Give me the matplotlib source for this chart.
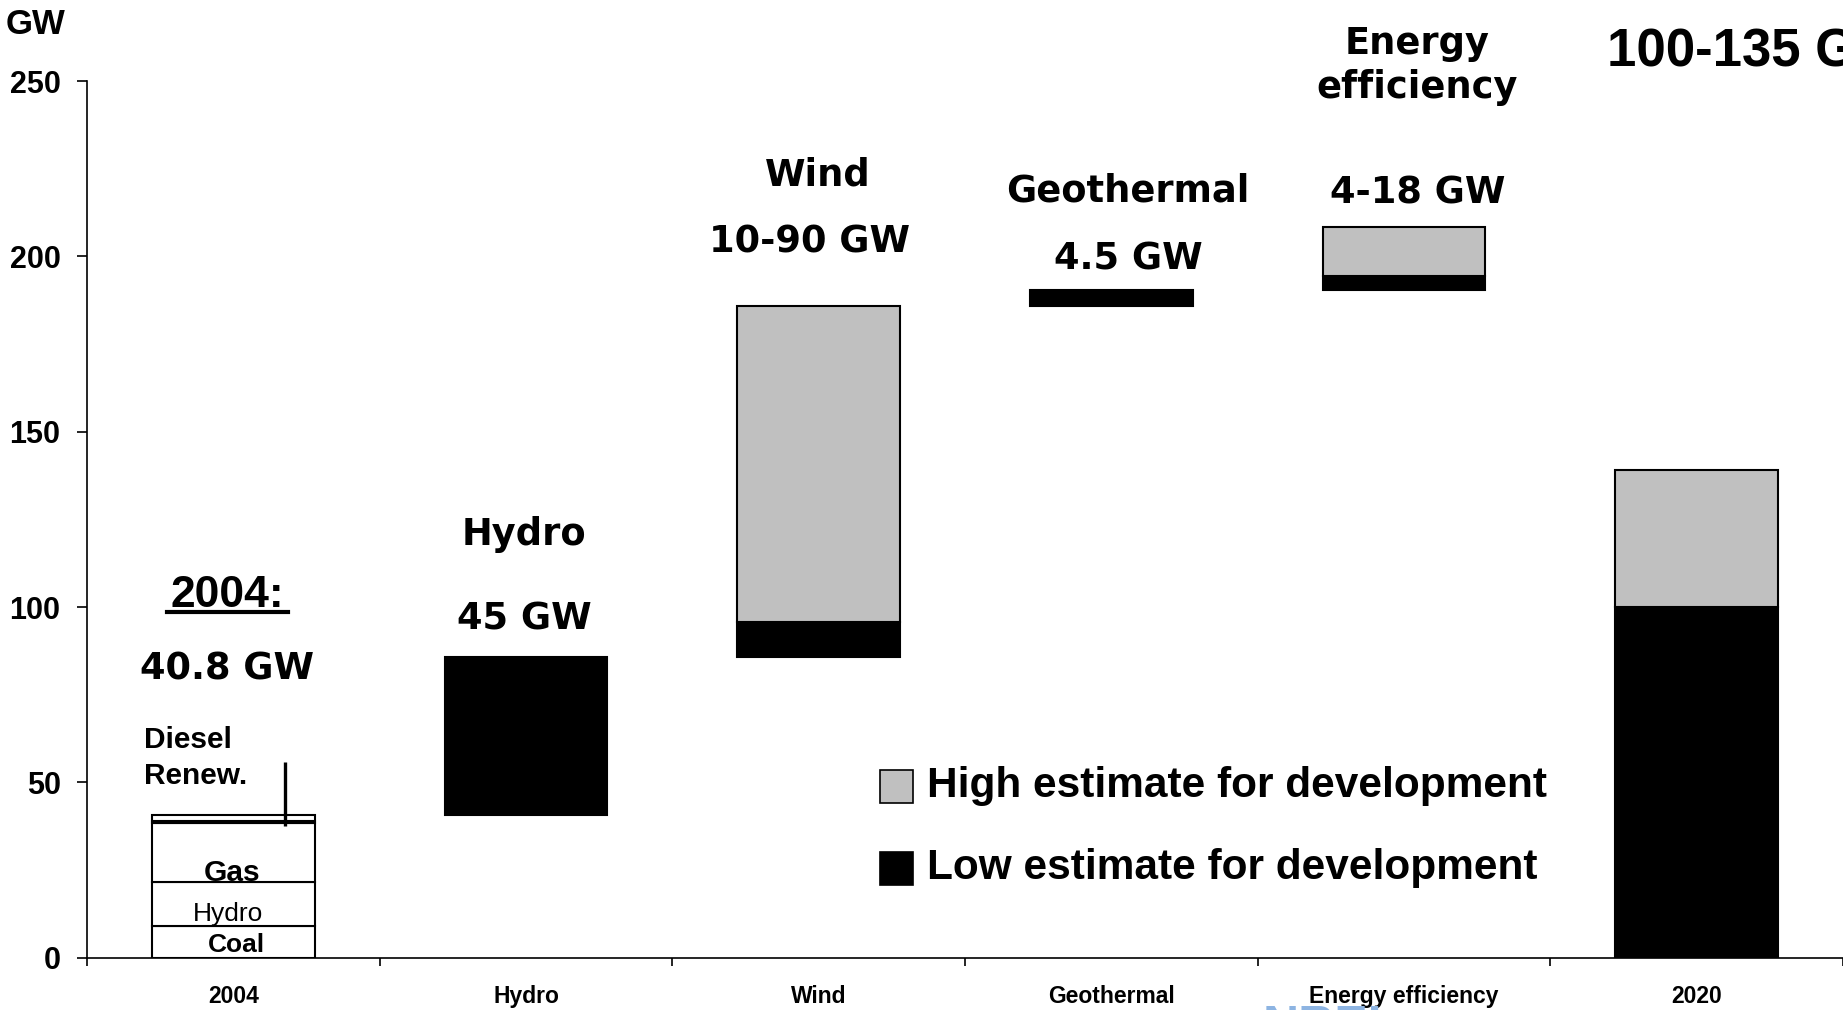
import numpy as np
import matplotlib
matplotlib.use("Agg")
import matplotlib.pyplot as plt
from matplotlib.patches import Rectangle

# ---- data -------------------------------------------------------------
categories = ["2004", "Hydro", "Wind", "Geothermal", "Energy efficiency", "2020"]

# installed capacity in 2004 (GW), stacked bottom to top
mix_2004_labels = ["Coal", "Hydro", "Gas", "Diesel", "Renew."]
mix_2004_values = [9.1, 12.6, 16.6, 0.8, 1.7]

# additions per source (GW): low estimate and the extra stacked for the high estimate
step_low = [45, 10, 4.5, 4]
step_high_extra = [0, 90, 0, 14]
step_titles = ["Hydro", "Wind", "Geothermal", "Energy\nefficiency"]
step_value_labels = ["45 GW", "10-90 GW", "4.5 GW", "4-18 GW"]

# 2020 total capacity (GW)
total_2020_low = 100
total_2020_high_extra = 39

yticks = [0, 50, 100, 150, 200, 250]

# ---- style ------------------------------------------------------------
ARIAL = "Liberation Sans"
VERD = "DejaVu Sans"
GREY = "#C0C0C0"
BAR_W = 0.556
EDGE_LW = 1.5

W_PX, H_PX = 1843, 1010
fig = plt.figure(figsize=(W_PX / 100, H_PX / 100), dpi=100)
ax = fig.add_axes([87 / W_PX, 1 - 957.7 / H_PX, (W_PX - 87) / W_PX, (957.7 - 81) / H_PX])
ax.set_xlim(-0.5, 5.5)
ax.set_ylim(0, 250)

# 2004 stacked capacity mix
bottoms = np.concatenate([[0], np.cumsum(mix_2004_values)[:-1]])
for v, b in zip(mix_2004_values, bottoms):
    ax.bar(0, v, bottom=b, width=BAR_W, color="white", edgecolor="black", linewidth=EDGE_LW)
total_2004 = float(np.sum(mix_2004_values))

# waterfall of additions
base = total_2004
for i, (lo, extra) in enumerate(zip(step_low, step_high_extra)):
    x = i + 1
    ax.bar(x, lo, bottom=base, width=BAR_W, color="black", edgecolor="black", linewidth=EDGE_LW)
    if extra:
        ax.bar(x, extra, bottom=base + lo, width=BAR_W, color=GREY,
               edgecolor="black", linewidth=EDGE_LW)
    base += lo + extra

# 2020 total
ax.bar(5, total_2020_low, width=BAR_W, color="black", edgecolor="black", linewidth=EDGE_LW)
ax.bar(5, total_2020_high_extra, bottom=total_2020_low, width=BAR_W, color=GREY,
       edgecolor="black", linewidth=EDGE_LW)

# ---- axes -------------------------------------------------------------
for s in ("top", "right"):
    ax.spines[s].set_visible(False)
for s in ("left", "bottom"):
    ax.spines[s].set_linewidth(1.2)
    ax.spines[s].set_clip_on(False)

ax.set_yticks(yticks)
ax.set_yticklabels([str(t) for t in yticks], fontfamily=ARIAL, fontweight="bold", fontsize=22)
ax.tick_params(axis="y", direction="out", length=7, width=1.2, pad=12)

ax.set_xticks(np.arange(-0.5, 6, 1))
ax.set_xticklabels([])
ax.tick_params(axis="x", which="major", direction="out", length=6, width=1.2)
ax.set_xticks(np.arange(len(categories)), minor=True)
ax.set_xticklabels(categories, minor=True, fontfamily=ARIAL, fontweight="bold", fontsize=16.5)
ax.tick_params(axis="x", which="minor", length=0, pad=20)

fig.text(6 / W_PX, 1 - 24 / H_PX, "GW", ha="left", va="center",
         fontfamily=ARIAL, fontweight="bold", fontsize=25)

# ---- annotations ------------------------------------------------------
def note(x, y, s, family=VERD, size=26.5, weight="bold", ha="center", **kw):
    ax.text(x, y, s, ha=ha, va="center", fontfamily=family, fontsize=size,
            fontweight=weight, clip_on=False, **kw)

# 2004 block
ax.text(-0.021, 103.2, "2004:", ha="center", va="center", fontfamily=ARIAL,
        fontsize=32, fontweight="bold")
fig.add_artist(plt.Line2D([167 / W_PX, 288 / W_PX], [1 - 612.3 / H_PX] * 2,
                          color="black", linewidth=3.0))
note(-0.020, 82.2, f"{total_2004:.1f} GW", size=26.5)
note(-0.304, 62.2, mix_2004_labels[3], family=ARIAL, size=21.5, ha="left")
note(-0.304, 51.8, mix_2004_labels[4], family=ARIAL, size=21.5, ha="left")
note(-0.006, 24.2, mix_2004_labels[2], family=ARIAL, size=21.5)
note(-0.018, 12.5, mix_2004_labels[1], family=ARIAL, size=19, weight="normal")
note(0.011, 3.6, mix_2004_labels[0], family=ARIAL, size=19)
ax.plot([0.177, 0.177], [37.6, 55.8], color="black", linewidth=2.4, solid_capstyle="butt")

# source titles and ranges
title_pos = [(0.994, 120.8), (1.998, 223.3), (3.058, 218.7), (4.046, 254.5)]
value_pos = [(0.994, 96.7), (1.970, 204.1), (3.058, 199.1), (4.048, 218.2)]
for (tx, ty), (vx, vy), t, v in zip(title_pos, value_pos, step_titles, step_value_labels):
    note(tx, ty, t, linespacing=1.23)
    note(vx, vy, v)

# 2020 range headline (runs past the figure edge)
ax.text(4.692, 258.1, f"{total_2020_low}-135 GW", ha="left", va="center",
        fontfamily=ARIAL, fontsize=38, fontweight="bold", clip_on=False)

# ---- legend -----------------------------------------------------------
legend_items = [(GREY, "High estimate for development", 770, 786.4),
                ("black", "Low estimate for development", 852, 868.5)]
for color, label, top, yc in legend_items:
    fig.add_artist(Rectangle((880 / W_PX, 1 - (top + 33) / H_PX), 33 / W_PX, 33 / H_PX,
                             transform=fig.transFigure, facecolor=color,
                             edgecolor="black", linewidth=1.2))
    fig.text(927 / W_PX, 1 - yc / H_PX, label, ha="left", va="center",
             fontfamily=ARIAL, fontweight="bold", fontsize=30.5)

# logo peeking in at the bottom edge
fig.text(1263 / W_PX, 1 - 1005 / H_PX, "NREL", ha="left", va="top",
         fontfamily=ARIAL, fontweight="bold", fontsize=36, color="#8DB4E2")

fig.savefig("out.png", dpi=100)
